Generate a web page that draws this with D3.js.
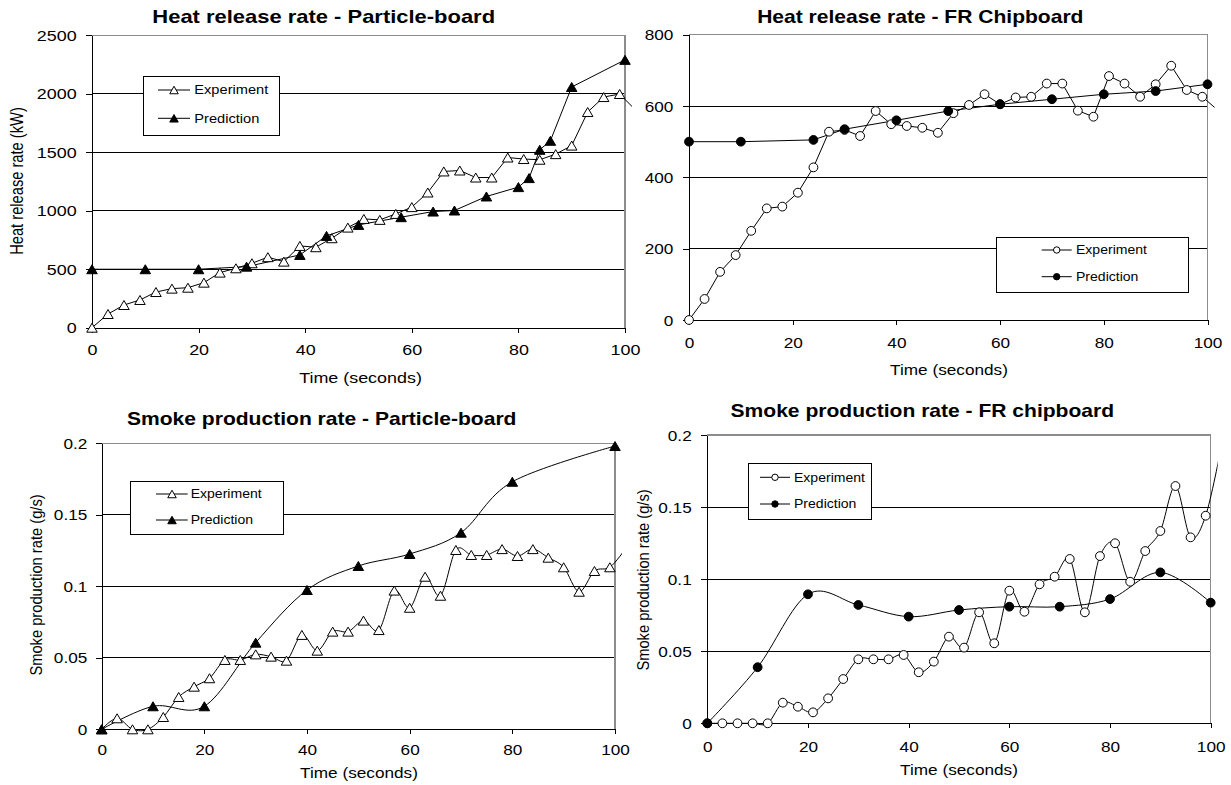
<!DOCTYPE html>
<html><head><meta charset="utf-8">
<script src="https://cdn.jsdelivr.net/npm/d3@7"></script>
<style>
body{margin:0;background:#fff}
svg{display:block}
text{font-family:"Liberation Sans",Arial,sans-serif;fill:#000}
</style>
</head><body>
<svg id="c" width="1231" height="785"></svg>
<script>
// ---------------- DATA ----------------
const timeTicks = [0, 20, 40, 60, 80, 100];
const hrrPbTicks = [0, 500, 1000, 1500, 2000, 2500];
const hrrFrTicks = [0, 200, 400, 600, 800];
const smokeTicks = [0, 0.05, 0.1, 0.15, 0.2];
const seriesNames = ["Experiment", "Prediction"];

const expTime = [0,3,6,9,12,15,18,21,24,27,30,33,36,39,42,45,48,51,54,57,60,63,66,69,72,75,78,81,84,87,90,93,96,99,102];

// Heat release rate - Particle-board (kW)
const hrrPbExp = [0,117,194,237,305,334,342,385,471,508,551,603,565,699,688,765,856,930,922,973,1031,1156,1336,1344,1284,1284,1455,1442,1436,1484,1557,1844,1972,1998,1860];
const hrrPbPredTime = [0,10,20,29,39,44,50,58,64,68,74,80,82,84,86,90,100];
const hrrPbPred = [500,500,500,522,622,785,879,945,993,1002,1122,1202,1279,1521,1598,2058,2290];

// Heat release rate - FR Chipboard (kW)
const hrrFrExp = [0,59,135,182,250,313,318,357,428,528,533,516,586,549,544,539,525,580,603,633,605,624,626,663,663,587,570,684,663,626,661,713,645,626,588];
const hrrFrPredTime = [0,10,24,30,40,50,60,70,80,90,100];
const hrrFrPred = [500,500,505,535,560,586,605,619,633,642,661];

// Smoke production rate - Particle-board (g/s)
const smokePbExp = [0,0.0077,0,0,0.0086,0.0226,0.0298,0.0357,0.0485,0.0485,0.0524,0.0508,0.048,0.066,0.055,0.0683,0.0683,0.076,0.0694,0.097,0.085,0.1067,0.0934,0.1254,0.1219,0.1219,0.126,0.1212,0.126,0.12,0.1133,0.0962,0.1107,0.1133,0.126];
const smokePbPredTime = [0,10,20,30,40,50,60,70,80,100];
const smokePbPred = [0,0.0161,0.0161,0.0606,0.0974,0.1142,0.1226,0.1375,0.1731,0.1981];

// Smoke production rate - FR chipboard (g/s)
const smokeFrExp = [0,0,0,0,0,0.0143,0.0115,0.0076,0.0173,0.0307,0.0444,0.0444,0.0444,0.0474,0.0354,0.0428,0.0601,0.0525,0.077,0.0555,0.092,0.0774,0.0964,0.1017,0.114,0.077,0.116,0.1249,0.0982,0.1195,0.1334,0.1646,0.129,0.144,0.19];
const smokeFrPredTime = [0,10,20,30,40,50,60,70,80,90,100];
const smokeFrPred = [0,0.0389,0.0895,0.0821,0.074,0.0786,0.0809,0.0809,0.0862,0.1047,0.0837];

// ---------------- LAYOUT ----------------
const zip = (a, b) => a.map((v, i) => [v, b[i]]);
const panels = [
  { title: "Heat release rate - Particle-board", ytitle: "Heat release rate (kW)",
    x0: 92, x1: 625, y0: 327.7, y1: 35.3, yMax: 2500, yTicks: hrrPbTicks, sx: 1.22,
    marker: "tri", smooth: false, exp: zip(expTime, hrrPbExp), pred: zip(hrrPbPredTime, hrrPbPred),
    titlePos: [323.7, 16.3], xtPos: [360.5, 378], ytPos: [16.5, 181], xLabDy: 22.3, yLabGap: 15.3,
    legend: { x: 143, y: 76.7, w: 136.3, h: 58.3, lx0: 158, lx1: 190, mx: 174, tx: 194.3, rows: [90, 118.3] } },
  { title: "Heat release rate - FR Chipboard", ytitle: null,
    x0: 689, x1: 1207.5, y0: 320, y1: 34.7, yMax: 800, yTicks: hrrFrTicks, sx: 1.17,
    marker: "circ", smooth: false, exp: zip(expTime, hrrFrExp), pred: zip(hrrFrPredTime, hrrFrPred),
    titlePos: [920.3, 16.7], xtPos: [949, 370], ytPos: null, xLabDy: 23, yLabGap: 15.7,
    legend: { x: 996.7, y: 237.7, w: 191.6, h: 55, lx0: 1041.7, lx1: 1071.7, mx: 1056.7, tx: 1076, rows: [250, 276.7] } },
  { title: "Smoke production rate - Particle-board", ytitle: "Smoke production rate (g/s)",
    x0: 101.7, x1: 615, y0: 729.3, y1: 443.3, yMax: 0.2, yTicks: smokeTicks, sx: 1.17,
    marker: "tri", smooth: true, exp: zip(expTime, smokePbExp), pred: zip(smokePbPredTime, smokePbPred),
    titlePos: [321.7, 418.3], xtPos: [359, 773], ytPos: [35.5, 585], xLabDy: 21, yLabGap: 14.4,
    legend: { x: 130, y: 481.7, w: 153.3, h: 52.6, lx0: 156, lx1: 187.7, mx: 172, tx: 190.7, rows: [494, 520] } },
  { title: "Smoke production rate - FR chipboard", ytitle: "Smoke production rate (g/s)",
    x0: 707.3, x1: 1210.7, y0: 723.3, y1: 435, yMax: 0.2, yTicks: smokeTicks, sx: 1.17,
    marker: "circ", smooth: true, exp: zip(expTime, smokeFrExp), pred: zip(smokeFrPredTime, smokeFrPred),
    titlePos: [922.3, 410.7], xtPos: [959, 770], ytPos: [643, 580], xLabDy: 23.4, yLabGap: 15.6,
    legend: { x: 748.3, y: 463.3, w: 123.4, h: 55.7, lx0: 760, lx1: 790, mx: 775, tx: 794, rows: [477.3, 504] } }
];

const svg = d3.select("#c");
const TICK_FS = 14.7, AXT_FS = 14.7, TITLE_FS = 18, LEG_FS = 12;

function triPath(w, h) {
  return `M0,${-h / 2}L${w / 2},${h / 2}L${-w / 2},${h / 2}Z`;
}
function drawMarker(g, x, y, type, filled, small) {
  if (type === "tri") {
    const w = small ? 8.5 : 10.5, h = small ? 7.5 : 9;
    g.append("path").attr("d", triPath(w, h)).attr("transform", `translate(${x},${y})`)
      .attr("fill", filled ? "#000" : "#fff").attr("stroke", "#000").attr("stroke-width", 1);
  } else {
    g.append("circle").attr("cx", x).attr("cy", y).attr("r", small ? 3.2 : 4.4)
      .attr("fill", filled ? "#000" : "#fff").attr("stroke", "#000").attr("stroke-width", 1);
  }
}

panels.forEach((p, idx) => {
  const g = svg.append("g");
  const xs = d3.scaleLinear().domain([0, 100]).range([p.x0, p.x1]);
  const ys = d3.scaleLinear().domain([0, p.yMax]).range([p.y0, p.y1]);

  // gridlines
  g.append("g").selectAll("line").data(p.yTicks.filter(v => v > 0)).join("line")
    .attr("x1", p.x0).attr("x2", p.x1).attr("y1", d => ys(d)).attr("y2", d => ys(d))
    .attr("stroke", "#000").attr("stroke-width", 1).attr("shape-rendering", "crispEdges");
  // plot border (top/right)
  g.append("path").attr("d", `M${p.x0},${ys(p.yMax)}H${xs(100)}V${p.y0}`)
    .attr("fill", "none").attr("stroke", "#8c8c8c").attr("stroke-width", 1.2).attr("shape-rendering", "crispEdges");

  // axes
  const ya = g.append("g").attr("transform", `translate(${p.x0},0)`)
    .call(d3.axisLeft(ys).tickValues(p.yTicks).tickSize(6).tickSizeOuter(0).tickFormat(d => String(d)));
  ya.attr("font-size", TICK_FS).attr("font-family", null);
  ya.selectAll("path,line").attr("shape-rendering", "crispEdges");
  ya.selectAll("text").attr("x", 0).attr("dy", "0.35em")
    .attr("transform", `translate(${-p.yLabGap},0) scale(${p.sx},1)`);

  const xa = g.append("g").attr("transform", `translate(0,${p.y0})`)
    .call(d3.axisBottom(xs).tickValues(timeTicks).tickSize(5).tickSizeOuter(0).tickFormat(d => String(d)));
  xa.attr("font-size", TICK_FS).attr("font-family", null);
  xa.selectAll("path,line").attr("shape-rendering", "crispEdges");
  xa.selectAll("text").attr("y", 0).attr("dy", "0.35em")
    .attr("transform", `translate(0,${p.xLabDy}) scale(${p.sx},1)`);

  // titles
  g.append("text").attr("transform", `translate(${p.titlePos[0]},${p.titlePos[1]}) scale(${p.sx},1)`)
    .attr("text-anchor", "middle").attr("dy", "0.35em").attr("font-size", TITLE_FS).attr("font-weight", "bold")
    .text(p.title);
  g.append("text").attr("transform", `translate(${p.xtPos[0]},${p.xtPos[1]}) scale(${p.sx},1)`)
    .attr("text-anchor", "middle").attr("dy", "0.35em").attr("font-size", AXT_FS).text("Time (seconds)");
  if (p.ytitle) {
    g.append("text").attr("transform", `translate(${p.ytPos[0]},${p.ytPos[1]}) scale(${p.sx},1) rotate(-90)`)
      .attr("text-anchor", "middle").attr("dy", "0.35em").attr("font-size", AXT_FS).text(p.ytitle);
  }

  // series
  const clipId = "clip" + idx;
  svg.append("defs").append("clipPath").attr("id", clipId).append("rect")
    .attr("x", p.x0 - 10).attr("y", p.y1 - 20).attr("width", p.x1 - p.x0 + 17).attr("height", p.y0 - p.y1 + 30);
  const line = d3.line().x(d => xs(d[0])).y(d => ys(d[1]))
    .curve(p.smooth ? d3.curveCardinal.tension(0) : d3.curveLinear);
  const sg = g.append("g").attr("clip-path", `url(#${clipId})`);
  [p.exp, p.pred].forEach(s => {
    sg.append("path").datum(s).attr("d", line).attr("fill", "none").attr("stroke", "#000").attr("stroke-width", 1);
  });
  const mg = g.append("g");
  p.exp.filter(d => d[0] <= 100).forEach(d => drawMarker(mg, xs(d[0]), ys(d[1]), p.marker, false, false));
  p.pred.filter(d => d[0] <= 100).forEach(d => drawMarker(mg, xs(d[0]), ys(d[1]), p.marker, true, false));

  // legend
  const L = p.legend;
  const lg = g.append("g");
  lg.append("rect").attr("x", L.x).attr("y", L.y).attr("width", L.w).attr("height", L.h)
    .attr("fill", "#fff").attr("stroke", "#000").attr("stroke-width", 1).attr("shape-rendering", "crispEdges");
  seriesNames.forEach((name, i) => {
    const ry = L.rows[i];
    lg.append("line").attr("x1", L.lx0).attr("x2", L.lx1).attr("y1", ry).attr("y2", ry)
      .attr("stroke", "#000").attr("stroke-width", 1);
    drawMarker(lg, L.mx, ry, p.marker, i === 1, true);
    lg.append("text").attr("transform", `translate(${L.tx},${ry}) scale(${p.sx},1)`)
      .attr("dy", "0.35em").attr("font-size", LEG_FS).text(name);
  });
});
</script>
</body></html>
